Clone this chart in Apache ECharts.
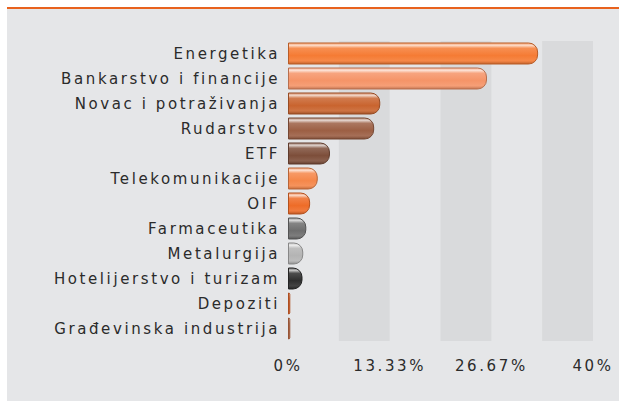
<!DOCTYPE html>
<html>
<head>
<meta charset="utf-8">
<script src="https://cdn.jsdelivr.net/npm/echarts@6/dist/echarts.min.js"></script>
<style>
  html, body { margin: 0; padding: 0; background: #fff; }
  .panel {
    position: absolute; left: 7px; top: 7px; width: 612px; height: 394px;
    border-top: 2px solid #e8621e; background: #e5e6e8;
  }
  #chart {
    position: absolute; left: 0; top: 0; width: 619px; height: 401px;
    letter-spacing: 2.6px;
  }
</style>
</head>
<body>
<div class="panel"></div>
<div id="chart"></div>
<script>
var sectors = ['Energetika', 'Bankarstvo i financije', 'Novac i potraživanja', 'Rudarstvo', 'ETF',
  'Telekomunikacije', 'OIF', 'Farmaceutika', 'Metalurgija', 'Hotelijerstvo i turizam',
  'Depoziti', 'Građevinska industrija']
var shares = [32.8, 26.1, 12.1, 11.3, 5.5, 3.9, 2.9, 2.4, 2.0, 1.9, 0.3, 0.3]
var barColors = ['#f57b34', '#f59468', '#c9642f', '#9c5f44', '#7d4e3a', '#f5874a',
  '#ee6c28', '#6e6e6e', '#b4b4b4', '#2e2e2e', '#e8682a', '#c87048']
var xTicks = ['0%', '', '13.33%', '', '26.67%', '', '40%']

// mix a hex colour with white (amt > 0) or black (amt < 0)
function shade (hex, amt) {
  var n = parseInt(hex.slice(1), 16)
  var c = [n >> 16, (n >> 8) & 255, n & 255].map(function (v) {
    return Math.round(amt > 0 ? v + (255 - v) * amt : v * (1 + amt))
  })
  return 'rgb(' + c.join(',') + ')'
}

function glossy (hex) {
  return new echarts.graphic.LinearGradient(0, 0, 0, 1, [
    { offset: 0, color: shade(hex, 0.35) },
    { offset: 0.12, color: shade(hex, 0.7) },
    { offset: 0.25, color: shade(hex, 0.15) },
    { offset: 0.6, color: hex },
    { offset: 0.85, color: shade(hex, 0.1) },
    { offset: 1, color: shade(hex, -0.2) }
  ])
}

var chart = echarts.init(document.getElementById('chart'), null, { renderer: 'svg' })

chart.setOption({
  backgroundColor: 'transparent',
  animation: false,
  grid: { left: 288, right: 26, top: 41, height: 300 },
  xAxis: {
    type: 'value',
    min: 0,
    max: 40,
    interval: 40 / 6,
    axisLine: { show: false },
    axisTick: { show: false },
    splitLine: { show: false },
    splitArea: {
      show: true,
      areaStyle: { color: ['rgba(0,0,0,0)', '#d9dadc'] }
    },
    axisLabel: {
      margin: 17,
      color: '#2b2b2b',
      fontFamily: 'DejaVu Sans',
      fontSize: 15,
      formatter: function (v, i) { return xTicks[i] }
    }
  },
  yAxis: {
    type: 'category',
    inverse: true,
    data: sectors,
    axisLine: { show: false },
    axisTick: { show: false },
    axisLabel: {
      margin: 8,
      color: '#2b2b2b',
      fontFamily: 'DejaVu Sans',
      fontSize: 15
    }
  },
  series: [
    {
      type: 'bar',
      barCategoryGap: '12%',
      data: shares.map(function (v, i) {
        return {
          value: v,
          itemStyle: {
            color: glossy(barColors[i]),
            borderColor: shade(barColors[i], -0.25),
            borderWidth: 1,
            borderRadius: [0, 9, 9, 0]
          }
        }
      })
    }
  ]
})
</script>
</body>
</html>
